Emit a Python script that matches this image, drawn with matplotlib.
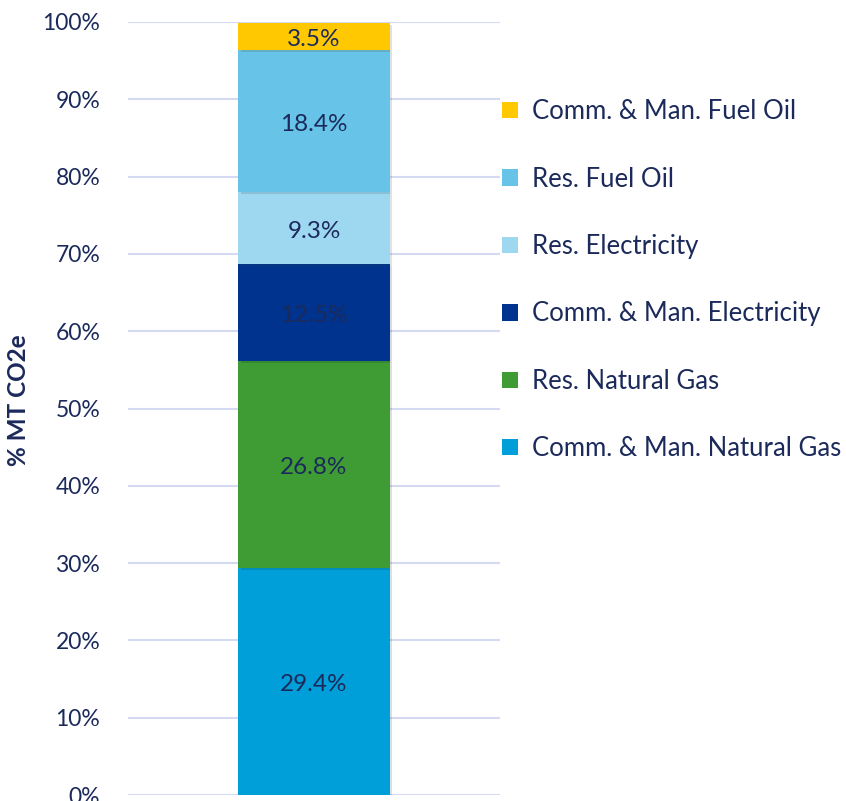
import matplotlib.pyplot as plt
import matplotlib.patheffects as pe
from matplotlib.patches import Patch

categories = ["Comm. & Man. Natural Gas", "Res. Natural Gas", "Comm. & Man. Electricity",
              "Res. Electricity", "Res. Fuel Oil", "Comm. & Man. Fuel Oil"]
shares = [29.4, 26.8, 12.5, 9.3, 18.4, 3.5]
colors = ["#009FDA", "#3F9C35", "#00338D", "#9DD7F0", "#67C3E8", "#FFC800"]
yticks = [0, 10, 20, 30, 40, 50, 60, 70, 80, 90, 100]

navy = "#1B2A5A"
plt.rcParams['font.family'] = ['Lato', 'DejaVu Sans']

fig = plt.figure(figsize=(8.46, 8.01), dpi=100)
ax = fig.add_axes([128/846, 6/801, 372/846, 773/801])

bottom = 0
for cat, val, col in zip(categories, shares, colors):
    ax.bar(0, val, width=0.406, bottom=bottom, color=col, zorder=3,
           path_effects=[pe.SimplePatchShadow(offset=(1.5, -1.5), alpha=0.15), pe.Normal()])
    # labels sit a touch below the segment centre, like the original
    ax.text(0, bottom + val / 2 - 0.45, f"{val}%", ha="center", va="center",
            fontsize=17.5, color=navy, zorder=4)
    bottom += val

ax.set_xlim(-0.5, 0.5)
ax.set_ylim(0, 100)
ax.set_yticks(yticks)
ax.set_yticklabels([f"{t}%" for t in yticks], fontsize=16.5, color=navy)
ax.tick_params(axis="y", length=0, pad=20)
ax.set_xticks([])
ax.grid(axis="y", color="#D3DAF2", linewidth=1.5, zorder=0)
for s in ax.spines.values():
    s.set_visible(False)

fig.text(19/846, 1 - 400/801, "% MT CO2e", rotation=90, ha="center", va="center",
         fontsize=17.5, fontweight="bold", color=navy)

handles = [Patch(facecolor=c, label=l) for l, c in zip(categories, colors)][::-1]
fig.legend(handles=handles, loc="upper left", bbox_to_anchor=(492/846, 1 - 89/801),
           frameon=False, fontsize=18.5, labelcolor=navy, handlelength=0.6,
           handleheight=0.6, handletextpad=0.55, labelspacing=1.65, borderaxespad=0)

fig.savefig("out.png", dpi=100)
